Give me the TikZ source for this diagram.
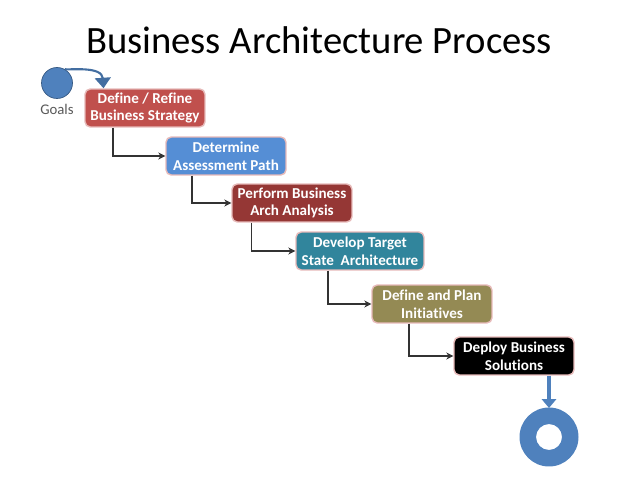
\documentclass[tikz,border=0pt]{standalone}
\usepackage{fontspec}
\setmainfont{Carlito}[Ligatures=NoCommon]
\usetikzlibrary{arrows.meta}
\definecolor{goalblue}{HTML}{4F81BD}
\definecolor{stratred}{HTML}{C0504D}
\definecolor{pathblue}{HTML}{558ED5}
\definecolor{archred}{HTML}{953735}
\definecolor{targteal}{HTML}{31859C}
\definecolor{planolive}{HTML}{948A54}
\definecolor{edgepink}{HTML}{E6B9B8}
\tikzset{
  stage/.style={draw=edgepink, line width=0.8pt, rounded corners=3pt, text=white,
    font=\bfseries\fontsize{8.6}{10}\selectfont, align=center,
    minimum width=2.4cm, minimum height=0.76cm, inner sep=1pt},
  flow/.style={draw=black!80, line width=0.6pt, -{Stealth[length=4pt,width=4pt]}}
}
\begin{document}
\begin{tikzpicture}[x=0.02cm,y=-0.02cm]
\useasboundingbox (0,0) rectangle (638,479);

% title
\node (title) at (319,40) {\fontsize{22}{26}\selectfont Business Architecture Process};

% goals
\node[circle, fill=goalblue, draw=goalblue!70!black, minimum size=0.62cm, inner sep=0pt] (goal) at (57,83) {};
\node[text=black!65, font=\fontsize{8.4}{9}\selectfont] (goallbl) at (57,109) {Goals};

% stages
\node[stage, fill=stratred] (strat) at (145,108) {Define / Refine\\Business Strategy};
\node[stage, fill=pathblue] (path) at (226,156) {Determine\\Assessment Path};
\node[stage, fill=archred] (arch) at (292,203) {Perform Business\\Arch Analysis};
\node[stage, fill=targteal, minimum width=2.56cm] (targ) at (360,251) {Develop Target\\State~ Architecture};
\node[stage, fill=planolive] (plan) at (432,304) {Define and Plan\\Initiatives};
\node[stage, fill=black] (deploy) at (514,356) {Deploy Business\\Solutions};

% end ring
\fill[goalblue, even odd rule] (549,437) circle[radius=0.59cm] (549,437) circle[radius=0.26cm];
\coordinate (ringtop) at (549,408);

% goal arrow
\draw[goalblue!85!black, line width=1.2pt, -{Triangle[length=6pt,width=9pt]}]
  (goal.60) .. controls (70,70) and (102,66) .. ([xshift=-0.83cm]strat.north);

% steps
\draw[flow] ([xshift=-0.64cm]strat.south) |- (path.west);
\draw[flow] ([xshift=-0.68cm]path.south) |- (arch.west);
\draw[flow] ([xshift=-0.81cm]arch.south) |- (targ.west);
\draw[flow] ([xshift=-0.64cm]targ.south) |- (plan.west);
\draw[flow] ([xshift=-0.46cm]plan.south) |- (deploy.west);
\draw[goalblue, line width=2.6pt, -{Triangle[length=5pt,width=8pt]}] (deploy.south -| ringtop) -- (ringtop);

\end{tikzpicture}
\end{document}
